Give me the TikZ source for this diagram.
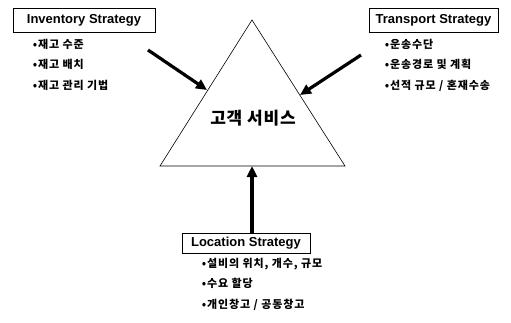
\documentclass[tikz,border=0pt]{standalone}
\usepackage{fontspec}
\setmainfont{Liberation Sans}
\newfontfamily\kr{Noto Sans CJK KR}[LetterSpace=8]
\newfontfamily\krbig{Noto Sans CJK KR}[LetterSpace=5]
\usetikzlibrary{arrows.meta,positioning}

\begin{document}
\begin{tikzpicture}[x=1pt,y=-1pt,>={Triangle[length=11pt,width=10pt]},
  stratbox/.style={draw,line width=0.6pt,inner sep=0pt,font=\fontsize{13}{15}\selectfont\bfseries},
  itemlist/.style={align=left,inner sep=0pt,font=\kr\bfseries\fontsize{11}{20.5}\selectfont},
  pusharrow/.style={->,line width=3.2pt}]
  \useasboundingbox (0,0) rectangle (511,322);
  % strategy boxes
  \node[stratbox,minimum width=142pt,minimum height=24pt] (inv) at (84,20) {Inventory Strategy};
  \node[stratbox,minimum width=129pt,minimum height=24pt] (trn) at (433.5,20) {Transport Strategy};
  \node[stratbox,minimum width=128pt,minimum height=20pt] (loc) at (246,243) {Location Strategy};
  % item lists
  \node[itemlist,anchor=north west,below right=6.5pt and 20pt of inv.south west] (invitems)
    {•재고 수준\\•재고 배치\\•재고 관리 기법};
  \node[itemlist,anchor=north west,below right=6.5pt and 16pt of trn.south west] (trnitems)
    {•운송수단\\•운송경로 및 계획\\•선적 규모 / 혼재수송};
  \node[itemlist,anchor=north west,below right=4.5pt and 20pt of loc.south west] (locitems)
    {•설비의 위치, 개수, 규모\\•수요 할당\\•개인창고 / 공동창고};
  % customer service triangle
  \coordinate (apex) at (252,20);
  \coordinate (bl) at (160,166);
  \coordinate (br) at (345,166);
  \draw[line width=0.6pt] (apex) -- (bl) -- (br) -- cycle;
  \node[font=\krbig\bfseries\fontsize{17}{20}\selectfont] (cs) at (253,118) {고객 서비스};
  % arrows into the triangle
  \coordinate (invtail) at (148,50);
  \coordinate (invhead) at (207,90);
  \coordinate (trntail) at (361,55);
  \coordinate (trnhead) at (300,95);
  \coordinate (lochead) at (252,166);
  \draw[pusharrow] (invtail) -- (invhead);
  \draw[pusharrow] (trntail) -- (trnhead);
  \draw[pusharrow] (loc.north -| lochead) -- (lochead);
\end{tikzpicture}
\end{document}
